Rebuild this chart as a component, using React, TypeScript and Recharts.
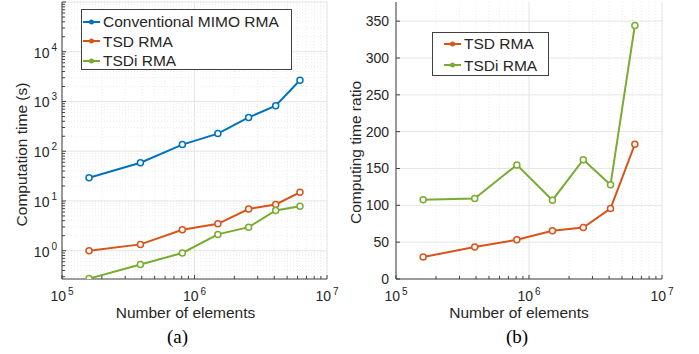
import React from 'react';
import { LineChart, Line, XAxis, YAxis, CartesianGrid, ReferenceLine, Legend, Label } from 'recharts';

// number of elements (n^4, n = 20..50)
const elements = [160000, 390625, 810000, 1500625, 2560000, 4100625, 6250000];

// (a) computation time in seconds
const conventionalTime = [29.4, 58.6, 136, 226, 479, 820, 2680];
const tsdTime = [1.0, 1.34, 2.63, 3.47, 6.9, 8.5, 14.9];
const tsdiTime = [0.275, 0.53, 0.9, 2.13, 2.98, 6.43, 7.83];

// (b) computing time ratio
const tsdRatio = [29.8, 43.4, 53.3, 65.4, 69.9, 95.7, 182.9];
const tsdiRatio = [107.5, 109.2, 154.9, 107, 162, 127.8, 344.2];

const xMajorTicks = [1e5, 1e6, 1e7];
const leftYMajorTicks = [1, 10, 100, 1000, 10000, 100000];
const rightYTicks = [0, 50, 100, 150, 200, 250, 300, 350];

const BLUE = '#0072BD';
const ORANGE = '#D95319';
const GREEN = '#77AC30';
const TEXT = '#262626';
const AXIS = '#404040';
const FONT = '"Liberation Sans", Arial, sans-serif';

const xDomain = [1e5, 1e7];
const leftYDomain = [0.27, 1e5];
const rightYDomain = [0, 376];

const minorTicks = (majors: number[], lo: number, hi: number) => {
  const out: number[] = [];
  for (const m of majors.concat([majors[0] / 10])) {
    for (let k = 2; k <= 9; k++) {
      const v = m * k;
      if (v > lo && v < hi) out.push(v);
    }
  }
  return out;
};

const xTicks = [...xMajorTicks, ...minorTicks(xMajorTicks, xDomain[0], xDomain[1])].sort((a, b) => a - b);
const leftYTicks = [...leftYMajorTicks, ...minorTicks(leftYMajorTicks, leftYDomain[0], leftYDomain[1])].sort((a, b) => a - b);

const timeData = elements.map((n, i) => ({
  n,
  conventional: conventionalTime[i],
  tsd: tsdTime[i],
  tsdi: tsdiTime[i],
}));

const ratioData = elements.map((n, i) => ({
  n,
  tsd: tsdRatio[i],
  tsdi: tsdiRatio[i],
}));

const isPow10 = (v: number) => {
  const e = Math.round(Math.log10(v));
  return Math.abs(v - Math.pow(10, e)) < 1e-6 * v;
};

const LogXTick = (props: any) => {
  const { x, y, payload } = props;
  const v = payload.value;
  const major = isPow10(v);
  const exp = Math.round(Math.log10(v));
  return (
    <g>
      <line x1={x} x2={x} y1={y} y2={y - (major ? 4 : 3)} stroke={AXIS} />
      {major && (
        <text x={x} y={y + 22} textAnchor="middle" fontSize={14} fill={TEXT} fontFamily={FONT}>
          <tspan>10</tspan>
          <tspan dx={2} dy={-6} fontSize={10}>{exp}</tspan>
        </text>
      )}
    </g>
  );
};

const LogYTick = (props: any) => {
  const { x, y, payload } = props;
  const v = payload.value;
  const major = isPow10(v);
  const exp = Math.round(Math.log10(v));
  return (
    <g>
      <line x1={x} x2={x + (major ? 4 : 3)} y1={y} y2={y} stroke={AXIS} />
      {major && exp < 5 && (
        <text x={x - 5} y={y + 6} textAnchor="end" fontSize={14} fill={TEXT} fontFamily={FONT}>
          <tspan>10</tspan>
          <tspan dx={2} dy={-7} fontSize={10}>{exp}</tspan>
        </text>
      )}
    </g>
  );
};

const LinearYTick = (props: any) => {
  const { x, y, payload } = props;
  return (
    <g>
      <line x1={x} x2={x + 4} y1={y} y2={y} stroke={AXIS} />
      <text x={x - 7} y={y + 5} textAnchor="end" fontSize={14} fill={TEXT} fontFamily={FONT}>
        {payload.value}
      </text>
    </g>
  );
};

const makeLegend = (opts: { rowH: number; padTop: number; padLeft: number }) => (props: any) => {
  const { payload } = props;
  return (
    <div
      style={{
        width: '100%',
        height: '100%',
        boxSizing: 'border-box',
        border: `1px solid ${AXIS}`,
        background: '#fff',
        paddingTop: opts.padTop,
        paddingLeft: opts.padLeft,
      }}
    >
      {(payload || []).map((item: any) => (
        <div key={item.value} style={{ display: 'flex', alignItems: 'center', height: opts.rowH }}>
          <svg width={18} height={10} style={{ display: 'block' }}>
            <line x1={0} x2={17} y1={5} y2={5} stroke={item.color} strokeWidth={2} />
            <circle cx={8.5} cy={5} r={2.5} fill={item.color} />
          </svg>
          <span style={{ marginLeft: 2, fontSize: 15.5, fontFamily: FONT, color: TEXT, lineHeight: 1 }}>
            {item.value}
          </span>
        </div>
      ))}
    </div>
  );
};

const labelStyle = { fontSize: 15.5, fill: TEXT, fontFamily: FONT };
const captionStyle = { fontSize: 19, fill: '#000', fontFamily: '"Liberation Serif", "Times New Roman", serif' };

const dot = (c: string) => ({ r: 3, fill: '#fff', stroke: c, strokeWidth: 1.5 });

const TimeChart = () => (
  <LineChart width={340} height={354} data={timeData} margin={{ top: 2, right: 13, left: 0, bottom: 0 }}>
    <CartesianGrid stroke="#ececec" strokeDasharray="1 2" />
    {xMajorTicks.map((v) => (
      <ReferenceLine key={`x${v}`} x={v} stroke="#e6e6e6" />
    ))}
    {leftYMajorTicks.map((v) => (
      <ReferenceLine key={`y${v}`} y={v} stroke="#e6e6e6" />
    ))}
    <XAxis
      dataKey="n"
      type="number"
      scale="log"
      domain={xDomain}
      ticks={xTicks}
      interval={0}
      allowDataOverflow
      height={75}
      tickSize={0}
      tickMargin={0}
      tickLine={false}
      tick={LogXTick}
      axisLine={{ stroke: AXIS }}
    >
      <Label value="Number of elements" position="insideBottom" offset={36} dx={-9} {...labelStyle} />
      <Label value="(a)" position="insideBottom" offset={11} dx={-17} {...captionStyle} />
    </XAxis>
    <YAxis
      type="number"
      scale="log"
      domain={leftYDomain}
      ticks={leftYTicks}
      interval={0}
      allowDataOverflow
      width={62}
      tickSize={0}
      tickMargin={0}
      tickLine={false}
      tick={LogYTick}
      axisLine={{ stroke: AXIS }}
    >
      <Label value="Computation time (s)" position="center" angle={-90} dx={-10} dy={14} {...labelStyle} />
    </YAxis>
    <Legend
      layout="vertical"
      align="center"
      verticalAlign="middle"
      content={makeLegend({ rowH: 19.5, padTop: 2, padLeft: 1 })}
      wrapperStyle={{ left: 81, top: 9, width: 211, height: 61 }}
    />
    <Line type="linear" dataKey="conventional" name="Conventional MIMO RMA" stroke={BLUE} strokeWidth={2} dot={dot(BLUE)} isAnimationActive={false} />
    <Line type="linear" dataKey="tsd" name="TSD RMA" stroke={ORANGE} strokeWidth={2} dot={dot(ORANGE)} isAnimationActive={false} />
    <Line type="linear" dataKey="tsdi" name="TSDi RMA" stroke={GREEN} strokeWidth={2} dot={dot(GREEN)} isAnimationActive={false} />
  </LineChart>
);

const RatioChart = () => (
  <LineChart width={359} height={354} data={ratioData} margin={{ top: 2, right: 37, left: 0, bottom: 0 }}>
    <CartesianGrid stroke="#ececec" strokeDasharray="1 2" horizontal={false} />
    {xMajorTicks.map((v) => (
      <ReferenceLine key={`x${v}`} x={v} stroke="#e6e6e6" />
    ))}
    {rightYTicks.map((v) => (
      <ReferenceLine key={`y${v}`} y={v} stroke="#e6e6e6" />
    ))}
    <XAxis
      dataKey="n"
      type="number"
      scale="log"
      domain={xDomain}
      ticks={xTicks}
      interval={0}
      allowDataOverflow
      height={75}
      tickSize={0}
      tickMargin={0}
      tickLine={false}
      tick={LogXTick}
      axisLine={{ stroke: AXIS }}
    >
      <Label value="Number of elements" position="insideBottom" offset={36} dx={-10} {...labelStyle} />
      <Label value="(b)" position="insideBottom" offset={11} dx={-12} {...captionStyle} />
    </XAxis>
    <YAxis
      type="number"
      domain={rightYDomain}
      ticks={rightYTicks}
      interval={0}
      allowDataOverflow
      width={56}
      tickSize={0}
      tickMargin={0}
      tickLine={false}
      tick={LinearYTick}
      axisLine={{ stroke: AXIS }}
    >
      <Label value="Computing time ratio" position="center" angle={-90} dx={-13} dy={12} {...labelStyle} />
    </YAxis>
    <Legend
      layout="vertical"
      align="center"
      verticalAlign="middle"
      content={makeLegend({ rowH: 21.5, padTop: 0, padLeft: 11 })}
      wrapperStyle={{ left: 92, top: 32, width: 117, height: 44 }}
    />
    <Line type="linear" dataKey="tsd" name="TSD RMA" stroke={ORANGE} strokeWidth={2} dot={dot(ORANGE)} isAnimationActive={false} />
    <Line type="linear" dataKey="tsdi" name="TSDi RMA" stroke={GREEN} strokeWidth={2} dot={dot(GREEN)} isAnimationActive={false} />
  </LineChart>
);

export default function App() {
  return (
    <div style={{ position: 'absolute', left: 0, top: 0, width: 699, height: 354, background: '#fff' }}>
      <div style={{ position: 'absolute', left: 0, top: 0 }}>
        <TimeChart />
      </div>
      <div style={{ position: 'absolute', left: 340, top: 0 }}>
        <RatioChart />
      </div>
    </div>
  );
}
